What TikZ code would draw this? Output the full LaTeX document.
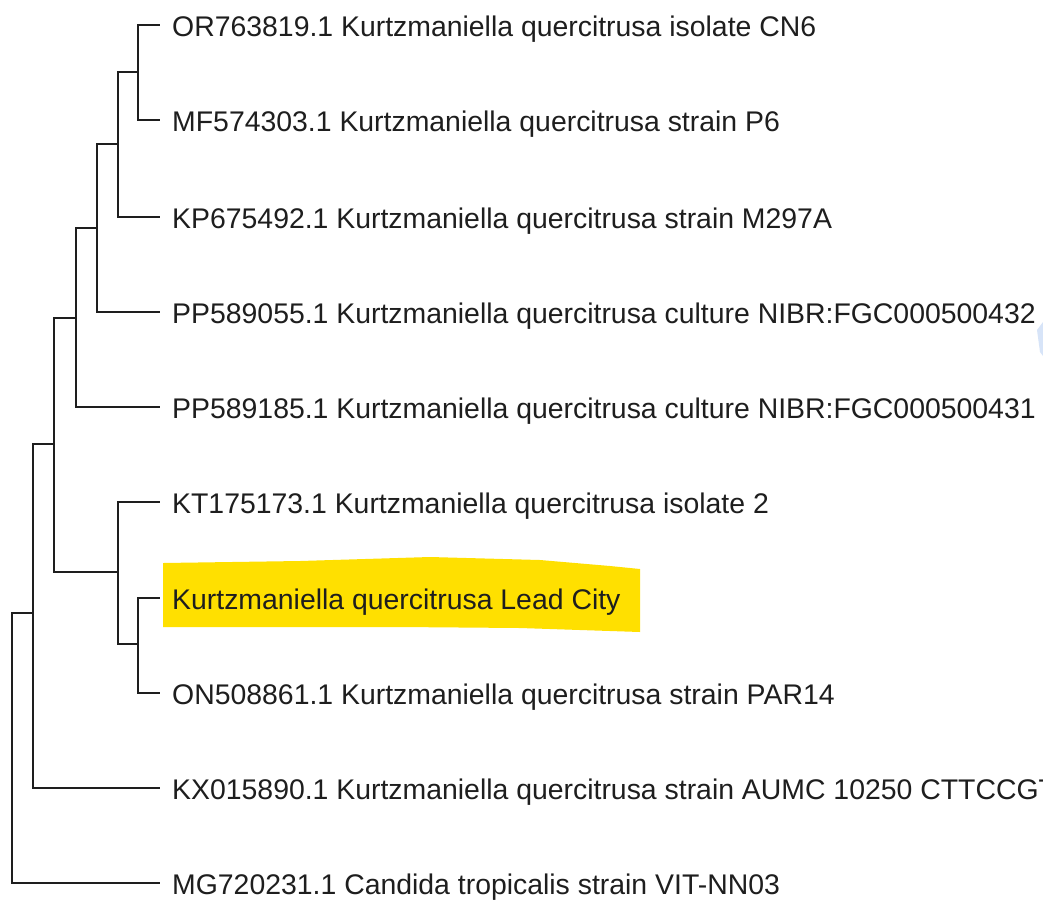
\documentclass[tikz,border=0pt]{standalone}
\usepackage{fontspec}
\setmainfont{Liberation Sans}
\usetikzlibrary{calc}
\definecolor{hl}{RGB}{255,224,0}
\definecolor{ink}{RGB}{30,30,30}
\definecolor{ghost}{RGB}{215,228,248}
\tikzset{
  branch/.style={draw=ink, line width=1.8pt, line cap=rect},
  leaf/.style={anchor=base west, inner sep=0pt, text=ink, font=\fontsize{28.4}{34}\selectfont}
}
\begin{document}
\begin{tikzpicture}[x=1pt,y=-1pt]
\useasboundingbox (0,0) rectangle (1043,900);
\clip (0,0) rectangle (1043,900);
\fill[white] (0,0) rectangle (1043,900);
% highlight
\fill[hl] (163,563) -- (300,561) -- (430,557) -- (540,560) -- (610,566) -- (640,569) -- (640,632) -- (520,628) -- (400,627) -- (163,627) -- cycle;
% faint artifact
\fill[ghost] (1043,322) -- (1037,330) -- (1040,352) -- (1043,356) -- cycle;
% leaf end coordinates
\coordinate (l1) at (159,25);
\coordinate (l2) at (159,120);
\coordinate (l3) at (159,217);
\coordinate (l4) at (159,312);
\coordinate (l5) at (159,407);
\coordinate (l6) at (159,502);
\coordinate (l7) at (159,598);
\coordinate (l8) at (159,693);
\coordinate (l9) at (159,788);
\coordinate (l10) at (159,883);
% internal nodes
\coordinate (A) at (138,72);
\coordinate (B) at (118,144);
\coordinate (C) at (97,228);
\coordinate (D) at (76,318);
\coordinate (G) at (138,644);
\coordinate (F) at (118,572);
\coordinate (E) at (54,444);
\coordinate (H) at (33,613);
\coordinate (R) at (12,748);
% labels
\node[leaf] (t1) at ($(l1)+(13,11)$) {OR763819.1 Kurtzmaniella quercitrusa isolate CN6};
\node[leaf] (t2) at ($(l2)+(13,11)$) {MF574303.1 Kurtzmaniella quercitrusa strain P6};
\node[leaf] (t3) at ($(l3)+(13,11)$) {KP675492.1 Kurtzmaniella quercitrusa strain M297A};
\node[leaf] (t4) at ($(l4)+(13,11)$) {PP589055.1 Kurtzmaniella quercitrusa culture NIBR:FGC000500432};
\node[leaf] (t5) at ($(l5)+(13,11)$) {PP589185.1 Kurtzmaniella quercitrusa culture NIBR:FGC000500431};
\node[leaf] (t6) at ($(l6)+(13,11)$) {KT175173.1 Kurtzmaniella quercitrusa isolate 2};
\node[leaf] (t7) at ($(l7)+(13,11)$) {Kurtzmaniella quercitrusa Lead City};
\node[leaf] (t8) at ($(l8)+(13,11)$) {ON508861.1 Kurtzmaniella quercitrusa strain PAR14};
\node[leaf] (t9) at ($(l9)+(13,11)$) {KX015890.1 Kurtzmaniella quercitrusa strain AUMC 10250 CTTCCGT};
\node[leaf] (t10) at ($(l10)+(13,11)$) {MG720231.1 Candida tropicalis strain VIT-NN03};
% branches
\draw[branch] (A) |- (l1);
\draw[branch] (A) |- (l2);
\draw[branch] (B) |- (A);
\draw[branch] (B) |- (l3);
\draw[branch] (C) |- (B);
\draw[branch] (C) |- (l4);
\draw[branch] (D) |- (C);
\draw[branch] (D) |- (l5);
\draw[branch] (G) |- (l7);
\draw[branch] (G) |- (l8);
\draw[branch] (F) |- (l6);
\draw[branch] (F) |- (G);
\draw[branch] (E) |- (D);
\draw[branch] (E) |- (F);
\draw[branch] (H) |- (E);
\draw[branch] (H) |- (l9);
\draw[branch] (R) |- (H);
\draw[branch] (R) |- (l10);
\end{tikzpicture}
\end{document}
